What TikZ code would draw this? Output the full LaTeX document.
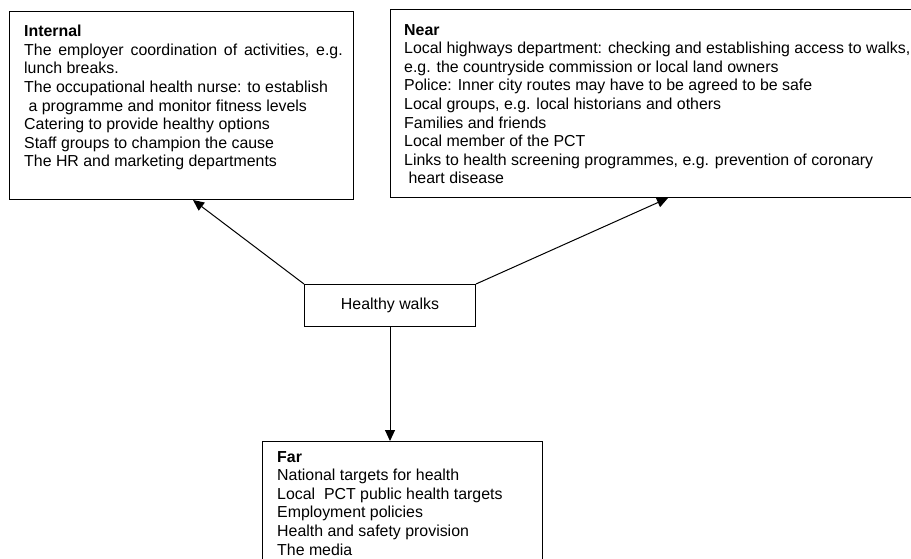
\documentclass[tikz,border=0pt]{standalone}
\usepackage{fontspec}
\setmainfont{Liberation Sans}
\usetikzlibrary{arrows.meta,calc}
\begin{document}
\begin{tikzpicture}[x=1pt,y=-1pt,
  frame/.style={draw=black,line width=1pt,rectangle,inner sep=0pt,anchor=north west},
  body/.style={inner sep=0pt,anchor=north west,align=left,font=\fontsize{15.9}{18.6}\selectfont},
  link/.style={draw=black,line width=1pt,-{Triangle[length=11pt,width=10pt]}}]
\useasboundingbox (0,0) rectangle (911,559);
\clip (0,0) rectangle (911,559);

% frames
\node[frame,minimum width=344pt,minimum height=188pt] (internal) at (9,11) {};
\node[frame,minimum width=535pt,minimum height=188pt] (near) at (390,9) {};
\node[frame,minimum width=171pt,minimum height=42pt,font=\fontsize{15.9}{18.6}\selectfont] (hw) at (304,284) {Healthy walks};
\node[frame,minimum width=280pt,minimum height=140pt] (far) at (262,441) {};

% box contents
\node[body] (internalText) at (24,25) {\textbf{Internal}\\
{\spaceskip=6.8pt plus 1pt The employer coordination of activities, e.g.}\\
lunch breaks.\\
The occupational health nurse: to establish\\
\hspace*{0.278em}a programme and monitor fitness levels\\
Catering to provide healthy options\\
Staff groups to champion the cause\\
The HR and marketing departments};

\node[body] (nearText) at (404,24) {\textbf{Near}\\
Local highways department: checking and establishing access to walks,\\
e.g. the countryside commission or local land owners\\
Police: Inner city routes may have to be agreed to be safe\\
Local groups, e.g. local historians and others\\
Families and friends\\
Local member of the PCT\\
Links to health screening programmes, e.g. prevention of coronary\\
\hspace*{0.278em}heart disease};

\node[body] (farText) at (277,451) {\textbf{Far}\\
National targets for health\\
Local\ \ PCT public health targets\\
Employment policies\\
Health and safety provision\\
The media};

% connectors
\draw[link] (hw.north west) -- ($(internal.south west)+(184,0)$);
\draw[link] (hw.north east) -- ($(near.south west)+(278,0)$);
\draw[link] (hw.south) -- (hw.south |- far.north);
\end{tikzpicture}
\end{document}
